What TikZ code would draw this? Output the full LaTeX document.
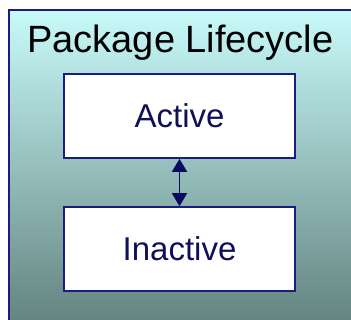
\documentclass[tikz,border=0pt]{standalone}
\usepackage{fontspec}
\setmainfont{Liberation Sans}
\usetikzlibrary{arrows.meta}
\definecolor{navy}{HTML}{1C1C80}
\definecolor{arrowc}{HTML}{0A0A5E}
\definecolor{topc}{HTML}{C8FAFA}
\definecolor{botc}{HTML}{5E7D78}
\definecolor{txt}{HTML}{10105A}
\tikzset{
  statebox/.style={draw=navy, line width=1.6pt, fill=white, minimum width=231pt, minimum height=84pt, inner sep=0pt, font=\fontsize{33}{36}\selectfont, text=txt},
  twoway/.style={draw=arrowc, line width=1.6pt, {Triangle[width=15pt,length=13pt]}-{Triangle[width=15pt,length=13pt]}}
}
\begin{document}
\begin{tikzpicture}[x=1pt,y=1pt]
\useasboundingbox (0,0) rectangle (351,-320);
\clip (0,0) rectangle (351,-320);
\shade[top color=topc, bottom color=botc, draw=navy, line width=1.3pt] (9,-10) rectangle (370,-340);
\node[font=\fontsize{38}{42}\selectfont, text=black, anchor=center] (title) at (180.5,-43) {Package Lifecycle};
\node[statebox] (active) at (179.5,-116) {Active};
\node[statebox] (inactive) at (179.5,-249) {Inactive};
\path[twoway] (active.south) -- (inactive.north);
\end{tikzpicture}
\end{document}
